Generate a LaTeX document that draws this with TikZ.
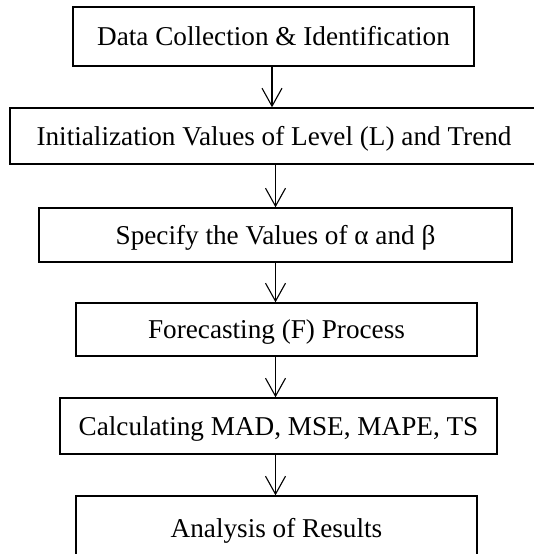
\documentclass[tikz,border=0pt]{standalone}
\usepackage{fontspec}
\setmainfont{Liberation Serif}
\usetikzlibrary{arrows.meta}
\begin{document}
\begin{tikzpicture}[x=1pt,y=-1pt,
  stepbox/.style={draw, line width=1.4pt, inner sep=0pt, text height=18pt, text depth=0pt,
    font=\fontsize{27.2}{32}\selectfont, anchor=center},
  arr/.style={line width=1.1pt, -{Straight Barb[length=18pt,width=20pt,line width=1.1pt]}}]
\useasboundingbox (0,0) rectangle (534,554);
\clip (0,0) rectangle (534,554);
\node[stepbox, minimum width=401pt, minimum height=59pt] (n1) at (273.5,36.5) {Data Collection \& Identification};
\node[stepbox, minimum width=528pt, minimum height=56pt] (n2) at (274,136) {Initialization Values of Level (L) and Trend};
\node[stepbox, minimum width=473pt, minimum height=54pt] (n3) at (275.5,235) {Specify the Values of α and β};
\node[stepbox, minimum width=401pt, minimum height=53pt] (n4) at (276.5,329.5) {Forecasting (F) Process};
\node[stepbox, minimum width=437pt, minimum height=56pt] (n5) at (278.5,426) {Calculating MAD, MSE, MAPE, TS};
\node[stepbox, minimum width=401pt, minimum height=65pt] (n6) at (276.5,528.5) {Analysis of Results};
\coordinate (a1) at (272,0);
\coordinate (ax) at (275.5,0);
\draw[arr] (n1.south -| a1) -- (n2.north -| a1);
\draw[arr] (n2.south -| ax) -- (n3.north -| ax);
\draw[arr] (n3.south -| ax) -- (n4.north -| ax);
\draw[arr] (n4.south -| ax) -- (n5.north -| ax);
\draw[arr] (n5.south -| ax) -- (n6.north -| ax);
\end{tikzpicture}
\end{document}
